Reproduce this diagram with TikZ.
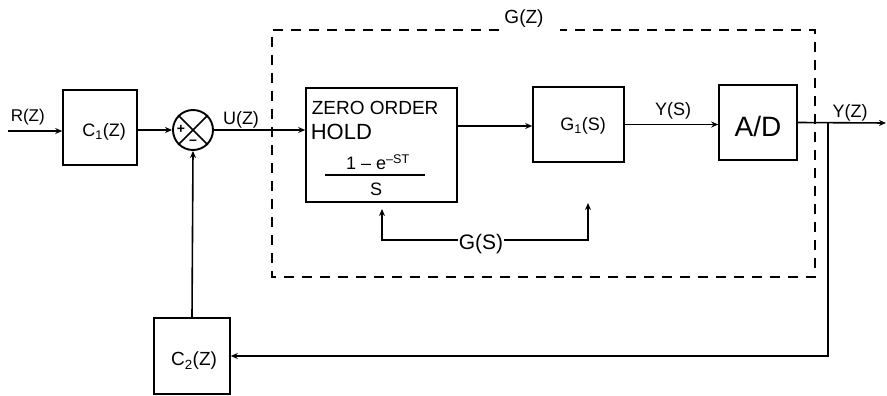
\documentclass[tikz,border=0pt]{standalone}
\usepackage{fontspec}
\setmainfont{Liberation Sans}
\usetikzlibrary{arrows.meta}
\begin{document}
\begin{tikzpicture}[x=1pt,y=-1pt,line width=1.6pt,
  >={Stealth[length=7pt,width=6pt]},
  blk/.style={draw,inner sep=0pt,minimum width=#1},
  lbl/.style={inner sep=0pt,font=\fontsize{#1}{#1}\selectfont},
  gbox/.style={draw,dash pattern=on 10pt off 8pt,line width=1.8pt}]
\useasboundingbox (0,0) rectangle (887,396);

% blocks
\node[blk=74pt,minimum height=75pt] (C1) at (100,127.5) {};
\node[lbl=18] (C1t) at (104,132) {C\textsubscript{1}(Z)};
\node[draw,circle,minimum size=40pt,inner sep=0pt,line width=1.9pt] (sum) at (193,130) {};
\node[blk=151pt,minimum height=114pt] (ZOH) at (381.5,145) {};
\node[blk=91pt,minimum height=75pt] (G1) at (578.5,124.5) {};
\node[lbl=18] (G1t) at (583,126) {G\textsubscript{1}(S)};
\node[blk=78pt,minimum height=75pt] (AD) at (758,122.5) {};
\node[lbl=28] (ADt) at (758,126) {A/D};
\node[blk=76pt,minimum height=76pt] (C2) at (192,356) {};
\node[lbl=19] (C2t) at (194,361) {C\textsubscript{2}(Z)};

% summing junction
\draw[line width=1.5pt] (sum.north east) -- (sum.south west)
                        (sum.north west) -- (sum.south east);
\node[lbl=14] (plus) at (181,129) {\textbf{+}};
\node[lbl=14] (minus) at (193,142) {\textbf{–}};

% ZOH text
\node[lbl=19,anchor=west] (zoh1) at (311,108) {ZERO ORDER};
\node[lbl=22,anchor=west] (zoh2) at (310,132) {HOLD};
\node[lbl=18] (num) at (378,162) {1 – e\textsuperscript{–ST}};
\coordinate (barL) at (325,175);
\coordinate (barR) at (425,175);
\draw[line width=1.4pt] (barL) -- (barR);
\node[lbl=18] (den) at (376,189) {S};

% dashed box
\coordinate (gl) at (499,30);
\coordinate (gr) at (560,30);
\draw[gbox] (gl) -- (272,30) -- (272,277) -- (815,277) -- (815,30) -- (gr);
\node[lbl=19] (Gz) at (524,19) {G(Z)};

% signals
\coordinate (in) at (8,131);
\node[lbl=17,anchor=south west] (Rz) at (10,126) {R(Z)};
\draw[->] (in) -- (in -| C1.west);
\draw[->] (C1.east |- sum) -- (sum.west);
\draw[->] (sum.east) -- (sum.east -| ZOH.west);
\node[lbl=18] (Uz) at (241,120) {U(Z)};
\draw[->] (ZOH.east |- 0,126) -- (G1.west |- 0,126);
\draw[->] (G1.east) -- (G1.east -| AD.west);
\node[lbl=18] (Ys) at (673,111) {Y(S)};
\coordinate (out) at (886,123);
\draw[->] (AD.east) -- (out);
\node[lbl=18] (Yz) at (850,113) {Y(Z)};
\coordinate (tap) at (828,123);
\draw[->] (tap) |- (C2.east);
\draw[->] (C2.north) -- (sum.south);

% G(S) indication
\node[lbl=21] (GS) at (481,244) {G(S)};
\coordinate (zohArr) at (382,209);
\coordinate (g1Arr) at (588,203);
\draw[->,line width=1.4pt] (GS.west |- 0,240) -| (zohArr);
\draw[->,line width=1.4pt] (GS.east |- 0,240) -| (g1Arr);
\end{tikzpicture}
\end{document}
